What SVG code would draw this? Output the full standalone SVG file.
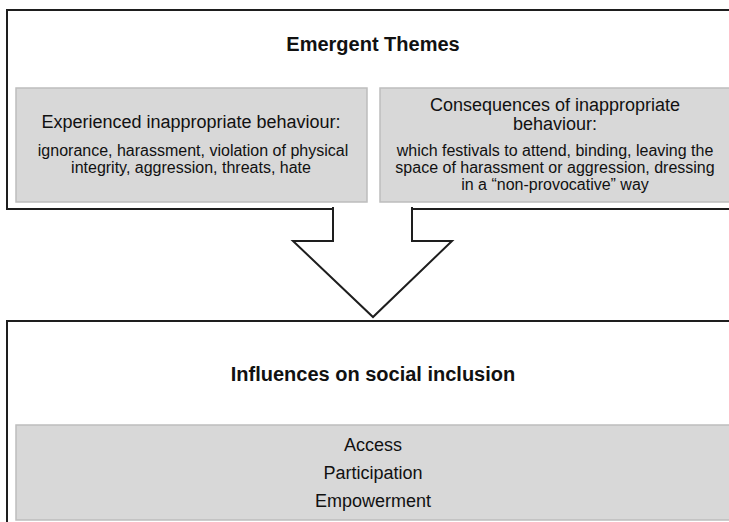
<svg xmlns="http://www.w3.org/2000/svg" width="729" height="522" viewBox="0 0 729 522">
  <style>
    .frame { fill: #ffffff; stroke: #1e1e1e; stroke-width: 2; }
    .panel { fill: #d8d8d8; stroke: #bdbdbd; stroke-width: 1.5; }
    .title { font-family: "Liberation Sans", Arial, sans-serif; font-weight: bold; font-size: 20px; fill: #111; text-anchor: middle; }
    .head { font-family: "Liberation Sans", Arial, sans-serif; font-size: 18px; fill: #111; text-anchor: middle; }
    .body { font-family: "Liberation Sans", Arial, sans-serif; font-size: 16px; fill: #111; text-anchor: middle; }
    .arrow { fill: #ffffff; stroke: #1e1e1e; stroke-width: 2; stroke-linejoin: miter; }
  </style>

  <rect width="729" height="522" fill="#ffffff"/>

  <!-- upper frame: Emergent Themes -->
  <g id="emergent-themes">
    <rect class="frame" x="7" y="10" width="740" height="199"/>
    <text class="title" x="373" y="51">Emergent Themes</text>
  </g>

  <g id="experienced">
    <rect class="panel" x="16" y="88" width="351" height="114"/>
    <text class="head" x="191" y="128">Experienced inappropriate behaviour:</text>
    <text class="body" x="193" y="156">ignorance, harassment, violation of physical</text>
    <text class="body" x="191" y="173">integrity, aggression, threats, hate</text>
  </g>

  <g id="consequences">
    <rect class="panel" x="380" y="88" width="360" height="114"/>
    <text class="head" x="555" y="111">Consequences of inappropriate</text>
    <text class="head" x="555" y="130">behaviour:</text>
    <text class="body" x="555" y="156">which festivals to attend, binding, leaving the</text>
    <text class="body" x="555" y="173">space of harassment or aggression, dressing</text>
    <text class="body" x="555" y="190">in a “non-provocative” way</text>
  </g>

  <!-- block arrow linking the two frames -->
  <g id="connectors">
    <polygon class="arrow" points="333,208 333,241 293,241 373,317 452,241 412,241 412,208"/>
    <rect x="334" y="205" width="77" height="6" fill="#ffffff"/>
  </g>

  <!-- lower frame: Influences on social inclusion -->
  <g id="social-inclusion">
    <rect class="frame" x="7" y="321" width="740" height="220"/>
    <text class="title" x="373" y="381">Influences on social inclusion</text>
    <rect class="panel" x="16" y="425" width="724" height="95"/>
    <text class="head" x="373" y="451">Access</text>
    <text class="head" x="373" y="479">Participation</text>
    <text class="head" x="373" y="507">Empowerment</text>
  </g>
</svg>
